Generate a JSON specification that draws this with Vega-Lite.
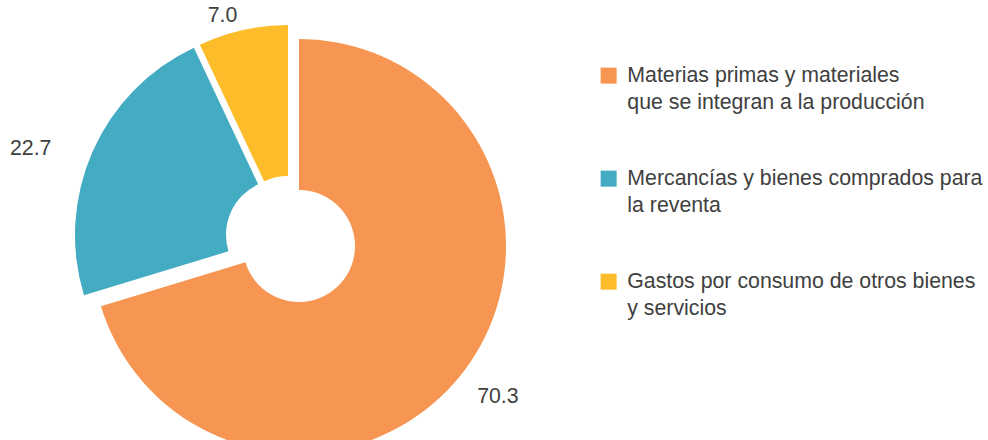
{
  "$schema": "https://vega.github.io/schema/vega-lite/v6.json",
  "width": 598,
  "height": 388,
  "autosize": {"type": "none"},
  "padding": {"left": 0, "top": 52, "right": 390, "bottom": 0},
  "background": "white",
  "config": {
    "view": {"stroke": null},
    "font": "Liberation Sans",
    "style": {"guide-label": {"lineHeight": 27}}
  },
  "data": {
    "values": [
      {"id": "mat", "categoria": "Materias primas y materiales\nque se integran a la producción", "valor": 70.3},
      {"id": "mer", "categoria": "Mercancías y bienes comprados para\nla reventa", "valor": 22.7},
      {"id": "gas", "categoria": "Gastos por consumo de otros bienes\ny servicios", "valor": 7.0}
    ]
  },
  "encoding": {
    "theta": {"field": "valor", "type": "quantitative", "stack": true},
    "order": {"field": "valor", "sort": "descending"}
  },
  "layer": [
    {
      "mark": {"type": "arc", "radius": 207, "innerRadius": 56},
      "encoding": {
        "color": {
          "field": "categoria",
          "type": "nominal",
          "scale": {
            "domain": [
              "Materias primas y materiales\nque se integran a la producción",
              "Mercancías y bienes comprados para\nla reventa",
              "Gastos por consumo de otros bienes\ny servicios"
            ],
            "range": ["#F79652", "#43ACC3", "#FDBC2A"]
          },
          "legend": {
            "title": null,
            "orient": "none",
            "legendX": 598,
            "legendY": 13,
            "symbolType": "square",
            "symbolSize": 256,
            "symbolStrokeWidth": 0,
            "labelFontSize": 21.3,
            "labelFont": "Liberation Sans",
            "labelColor": "#404040",
            "labelLimit": 400,
            "labelOffset": 8,
            "rowPadding": 54,
            "padding": 0,
            "labelExpr": "split(datum.label, '\\n')",
            "encode": {"labels": {"update": {"lineHeight": {"value": 27}}}}
          }
        },
        "opacity": {"condition": {"test": "datum.id == 'mat'", "value": 1}, "value": 0}
      }
    },
    {
      "mark": {"type": "arc", "radius": 207, "innerRadius": 56, "xOffset": -17, "yOffset": -11},
      "encoding": {
        "color": {"field": "categoria", "type": "nominal"},
        "opacity": {"condition": {"test": "datum.id == 'mer'", "value": 1}, "value": 0}
      }
    },
    {
      "mark": {"type": "arc", "radius": 207, "innerRadius": 56, "xOffset": -11, "yOffset": -14},
      "encoding": {
        "color": {"field": "categoria", "type": "nominal"},
        "opacity": {"condition": {"test": "datum.id == 'gas'", "value": 1}, "value": 0}
      }
    },
    {
      "mark": {"type": "text", "radius": 250, "dx": -2, "dy": 2, "fontSize": 21.3, "fill": "#404040"},
      "encoding": {
        "text": {"field": "valor", "type": "quantitative", "format": ".1f"},
        "opacity": {"condition": {"test": "datum.id == 'mat'", "value": 1}, "value": 0}
      }
    },
    {
      "mark": {"type": "text", "radius": 275, "dx": -17, "dy": 15, "fontSize": 21.3, "fill": "#404040"},
      "encoding": {
        "text": {"field": "valor", "type": "quantitative", "format": ".1f"},
        "opacity": {"condition": {"test": "datum.id == 'mer'", "value": 1}, "value": 0}
      }
    },
    {
      "mark": {"type": "text", "radius": 236, "dx": -25, "dy": 0, "fontSize": 21.3, "fill": "#404040"},
      "encoding": {
        "text": {"field": "valor", "type": "quantitative", "format": ".1f"},
        "opacity": {"condition": {"test": "datum.id == 'gas'", "value": 1}, "value": 0}
      }
    }
  ]
}
